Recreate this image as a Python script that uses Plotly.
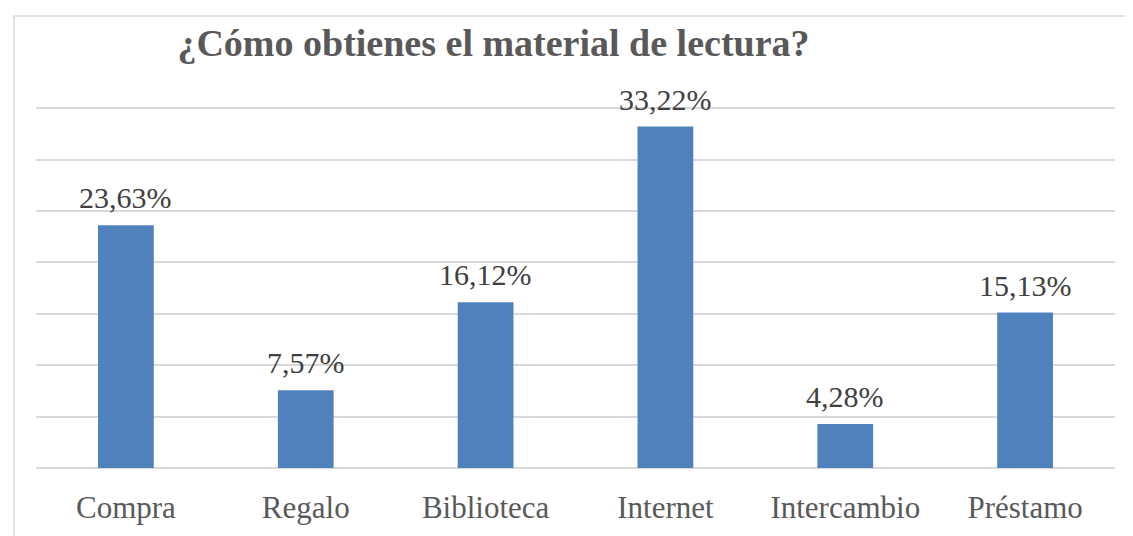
import plotly.graph_objects as go

categories = ["Compra", "Regalo", "Biblioteca", "Internet", "Intercambio", "Préstamo"]
percentages = [23.63, 7.57, 16.12, 33.22, 4.28, 15.13]

title_text = "¿Cómo obtienes el material de lectura?"
serif = "Liberation Serif, Times New Roman, serif"

fig = go.Figure()

fig.add_trace(go.Bar(
    x=categories,
    y=percentages,
    marker=dict(color="#4f81bd", line=dict(width=0)),
    width=0.31,
    hoverinfo="x+y",
))

# value labels above each bar (comma as decimal separator)
for cat, val in zip(categories, percentages):
    fig.add_annotation(
        x=cat, y=val,
        text=f"{val:.2f}".replace(".", ",") + "%",
        showarrow=False,
        xanchor="center", yanchor="bottom",
        yshift=9,
        font=dict(family=serif, size=30, color="#404040"),
    )

# the page has an 8px body margin, so the figure is shrunk by that much
fig.update_layout(
    width=1125,
    height=528,
    paper_bgcolor="white",
    plot_bgcolor="white",
    margin=dict(l=28, r=18, t=90, b=68),
    showlegend=False,
    title=dict(
        text="<b>" + title_text + "</b>",
        font=dict(family=serif, size=38, color="#595959"),
        xref="paper", x=0.424, xanchor="center",
        yref="container", y=0.934, yanchor="middle",
    ),
    xaxis=dict(
        showline=False,
        ticks="",
        tickfont=dict(family=serif, size=31, color="#595959"),
        ticklabelstandoff=18,
    ),
    yaxis=dict(
        range=[0, 36],
        tick0=0,
        dtick=5,
        showgrid=True,
        gridcolor="#d9d9d9",
        gridwidth=1.5,
        zeroline=True,
        zerolinecolor="#d9d9d9",
        zerolinewidth=1.5,
        showticklabels=False,
        ticks="",
    ),
    shapes=[dict(
        type="rect", xref="paper", yref="paper",
        x0=-0.0204, x1=1.2, y0=-0.4, y1=1.2216,
        line=dict(color="#d9d9d9", width=1.5),
        fillcolor="rgba(0,0,0,0)",
        layer="below",
    )],
)

fig.write_html("out.html")
